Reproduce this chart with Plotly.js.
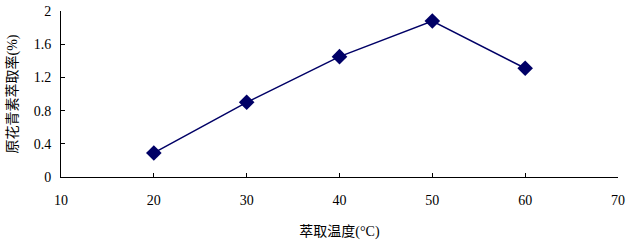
<!DOCTYPE html>
<html>
<head>
<meta charset="utf-8">
<script src="https://cdn.plot.ly/plotly-3.0.1.min.js"></script>
<style>html,body{margin:0;padding:0;background:#fff;}#chart{width:630px;height:242px;}</style>
</head>
<body>
<div id="chart"></div>
<script>
const temperatures = [20, 30, 40, 50, 60];
const yieldPct = [0.29, 0.90, 1.45, 1.88, 1.31];
const xTicks = [10, 20, 30, 40, 50, 60, 70];
const yTicks = [0, 0.4, 0.8, 1.2, 1.6, 2];
const yTickText = ['0', '0.4', '0.8', '1.2', '1.6', '2'];

const font = '"Liberation Serif", "Times New Roman", "Noto Sans CJK SC", serif';

Plotly.newPlot('chart', [{
  x: temperatures,
  y: yieldPct,
  type: 'scatter',
  mode: 'lines+markers',
  line: {color: '#000066', width: 1.5},
  marker: {symbol: 'diamond', size: 12, color: '#000066'},
  showlegend: false
}], {
  width: 630, height: 242,
  margin: {l: 61, r: 12, t: 11, b: 65},
  paper_bgcolor: '#fff', plot_bgcolor: '#fff',
  font: {family: font, size: 14, color: '#000'},
  xaxis: {
    range: [10, 70], tickvals: xTicks, ticktext: xTicks.map(String),
    showgrid: false, zeroline: false, showline: true, linecolor: '#000', linewidth: 1,
    ticks: 'inside', ticklen: 4, tickcolor: '#000', ticklabelstandoff: 10,
    tickfont: {family: font, size: 14, color: '#000'},
    title: {text: '萃取温度(°C)', font: {family: font, size: 14, color: '#000'}, standoff: 19}
  },
  yaxis: {
    range: [0, 2], tickvals: yTicks, ticktext: yTickText,
    showgrid: false, zeroline: false, showline: true, linecolor: '#000', linewidth: 1,
    ticks: 'inside', ticklen: 4, tickcolor: '#000', ticklabelstandoff: 6,
    tickfont: {family: font, size: 14, color: '#000'},
    title: {text: '原花青素萃取率(%)', font: {family: font, size: 14, color: '#000'}, standoff: 12}
  }
}, {displayModeBar: false, staticPlot: true});
</script>
</body>
</html>
